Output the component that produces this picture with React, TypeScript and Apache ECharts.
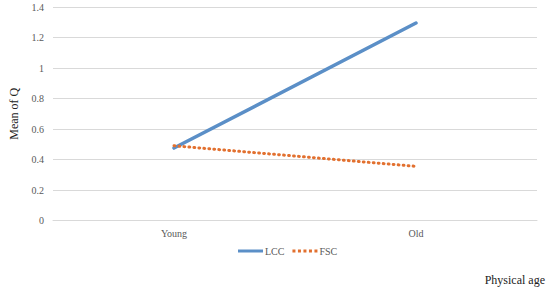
import React, { useEffect, useRef } from "react";
import * as echarts from "echarts";

const categories = ["Young", "Old"];
const lccValues = [0.475, 1.295];
const fscValues = [0.49, 0.355];
const yTicks = { min: 0, max: 1.4, interval: 0.2 };

const dotIcon =
  "path://M0,0h3v3h-3zM5.5,0h3v3h-3zM11,0h3v3h-3zM16.5,0h3v3h-3zM22,0h3v3h-3z";

export default function App() {
  const ref = useRef<HTMLDivElement>(null);
  useEffect(() => {
    const chart = echarts.init(ref.current!, undefined, { renderer: "svg" });
    const font = "Liberation Serif, DejaVu Serif, Times New Roman, serif";
    chart.setOption({
      animation: false,
      textStyle: { fontFamily: font },
      grid: { left: 52, right: 13, top: 7, bottom: 67.5, containLabel: false },
      xAxis: {
        type: "category",
        data: categories,
        boundaryGap: true,
        axisLine: { show: true, lineStyle: { color: "#d9d9d9", width: 1 } },
        axisTick: { show: false },
        axisLabel: { color: "#595959", fontSize: 10, fontFamily: font, margin: 8 },
        name: "Physical age",
        nameLocation: "end",
        nameGap: 8,
        nameTextStyle: {
          color: "#222",
          fontSize: 12,
          fontFamily: font,
          align: "right",
          verticalAlign: "top",
          padding: [53, 0, 0, 0],
        },
      },
      yAxis: {
        type: "value",
        min: yTicks.min,
        max: yTicks.max,
        interval: yTicks.interval,
        axisLine: { show: false },
        axisTick: { show: false },
        splitLine: { lineStyle: { color: "#d9d9d9", width: 1 } },
        axisLabel: {
          color: "#595959",
          fontSize: 10,
          fontFamily: font,
          margin: 9,
          formatter: (v: number) => String(Math.round(v * 10) / 10),
        },
        name: "Mean of Q",
        nameLocation: "middle",
        nameGap: 33,
        nameRotate: 90,
        nameTextStyle: { color: "#222", fontSize: 12, fontFamily: font },
      },
      legend: {
        top: 246,
        left: 238,
        padding: 0,
        itemWidth: 25,
        itemHeight: 3,
        itemGap: 8,
        textStyle: { color: "#595959", fontSize: 10, fontFamily: font, padding: [0, 0, 0, -3] },
        data: [
          { name: "LCC", icon: "rect" },
          { name: "FSC", icon: dotIcon },
        ],
      },
      series: [
        {
          name: "LCC",
          type: "line",
          data: lccValues,
          symbol: "none",
          lineStyle: { color: "#5b8fc7", width: 3.5, cap: "round" },
          itemStyle: { color: "#5b8fc7" },
        },
        {
          name: "FSC",
          type: "line",
          data: fscValues,
          symbol: "none",
          lineStyle: { color: "#e2702f", width: 3, type: [0.8, 4.2], cap: "round" },
          itemStyle: { color: "#e2702f" },
        },
      ],
    });
    return () => chart.dispose();
  }, []);
  return <div ref={ref} style={{ width: 550, height: 288, position: "absolute", left: 0, top: 0 }} />;
}
